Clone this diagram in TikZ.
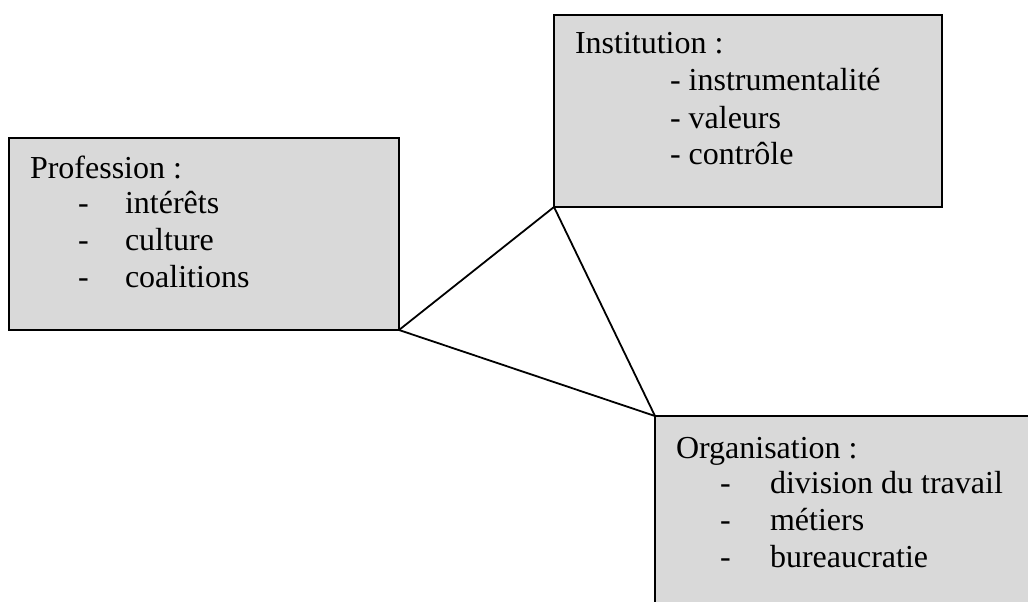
\documentclass[tikz,border=0pt]{standalone}
\usepackage{fontspec}
\setmainfont{Liberation Serif}
\begin{document}
\begin{tikzpicture}[x=1pt,y=-1pt,
  box/.style={draw=black,fill=boxgray,line width=2pt,outer sep=0pt,inner sep=0pt,anchor=north west},
  txt/.style={anchor=base west,inner sep=0pt,outer sep=0pt,font=\fontsize{32}{37}\selectfont},
  link/.style={line width=1.8pt}]
\definecolor{boxgray}{HTML}{D9D9D9}
\clip (0,0) rectangle (1028,602);
\fill[white] (0,0) rectangle (1028,602);
% the three boxes
\node[box,minimum width=390pt,minimum height=192pt] (prof) at (9,138) {};
\node[box,minimum width=388pt,minimum height=192pt] (inst) at (554,15) {};
\node[box,minimum width=420pt,minimum height=240pt] (orga) at (655,416) {};
% triangle between the box corners
\draw[link] (prof.south east) -- (inst.south west);
\draw[link] (inst.south west) -- (orga.north west);
\draw[link] (prof.south east) -- (orga.north west);
% Profession
\node[txt] (pt) at (30,178) {Profession :};
\node[txt] (pd1) at (78,213) {-};
\node[txt] (pd2) at (78,250) {-};
\node[txt] (pd3) at (78,287) {-};
\node[txt] (p1) at (125,213) {intérêts};
\node[txt] (p2) at (125,250) {culture};
\node[txt] (p3) at (125,287) {coalitions};
% Institution
\node[txt] (it) at (575,54) {Institution :};
\node[txt] (i1) at (670,91) {- instrumentalité};
\node[txt] (i2) at (670,128) {- valeurs};
\node[txt] (i3) at (670,164) {- contrôle};
% Organisation
\node[txt] (ot) at (676,458) {Organisation :};
\node[txt] (od1) at (720,493) {-};
\node[txt] (od2) at (720,530) {-};
\node[txt] (od3) at (720,567) {-};
\node[txt] (o1) at (770,493) {division du travail};
\node[txt] (o2) at (770,530) {métiers};
\node[txt] (o3) at (770,567) {bureaucratie};
\end{tikzpicture}
\end{document}
